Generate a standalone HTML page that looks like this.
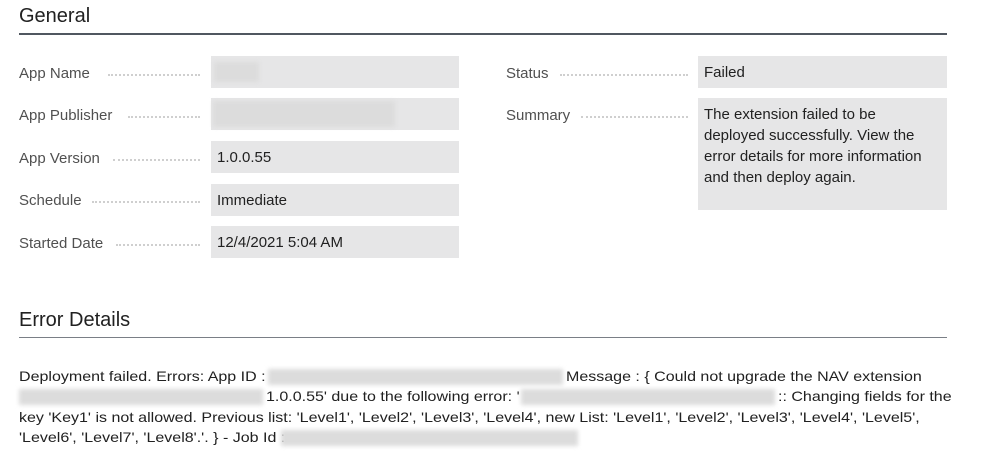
<!DOCTYPE html>
<html><head><meta charset="utf-8"><style>
body{margin:0;width:991px;height:457px;background:#fff;position:relative;overflow:hidden;font-family:"Liberation Sans",sans-serif;color:#212121}
h2{position:absolute;margin:0;font-weight:normal;font-size:20px;color:#212121;left:19px}
.rule{position:absolute;left:19px;width:928px;height:2px;background:#505760}
.lbl{position:absolute;font-size:15px;color:#505050;line-height:18px;white-space:nowrap}
.dots{position:absolute;height:0;border-top:2px dotted #cfcfcf}
.box{position:absolute;background:#e6e6e7;font-size:15px;line-height:21px;padding:6px 6px;box-sizing:border-box;color:#212121;white-space:nowrap}
.blur{position:absolute;background:#dcdcdc;filter:blur(2px)}
.t{position:absolute;font-size:14px;white-space:nowrap;color:#212121;transform-origin:0 0;transform:scaleX(1.144)}
</style></head><body>
<h2 style="top:5px">General</h2>
<div class="rule" style="top:33px"></div>

<div class="lbl" style="left:19px;top:65px">App Name</div><div class="dots" style="left:108px;width:92px;top:74px"></div>
<div class="box" style="left:211px;top:56px;width:248px;height:32px"></div><div class="blur" style="left:214px;top:62px;width:45px;height:20px"></div>
<div class="lbl" style="left:19px;top:107px">App Publisher</div><div class="dots" style="left:128px;width:72px;top:116px"></div>
<div class="box" style="left:211px;top:98px;width:248px;height:32px"></div><div class="blur" style="left:213px;top:101px;width:182px;height:26px"></div>
<div class="lbl" style="left:19px;top:150px">App Version</div><div class="dots" style="left:113px;width:87px;top:159px"></div>
<div class="box" style="left:211px;top:141px;width:248px;height:32px">1.0.0.55</div>
<div class="lbl" style="left:19px;top:192px">Schedule</div><div class="dots" style="left:92px;width:108px;top:201px"></div>
<div class="box" style="left:211px;top:184px;width:248px;height:32px">Immediate</div>
<div class="lbl" style="left:19px;top:235px">Started Date</div><div class="dots" style="left:116px;width:84px;top:244px"></div>
<div class="box" style="left:211px;top:226px;width:248px;height:32px">12/4/2021 5:04 AM</div>

<div class="lbl" style="left:506px;top:65px">Status</div><div class="dots" style="left:560px;width:128px;top:74px"></div>
<div class="box" style="left:698px;top:56px;width:249px;height:32px">Failed</div>
<div class="lbl" style="left:506px;top:107px">Summary</div><div class="dots" style="left:581px;width:107px;top:116px"></div>
<div class="box" style="left:698px;top:98px;width:249px;height:112px">The extension failed to be<br>deployed successfully. View the<br>error details for more information<br>and then deploy again.</div>

<h2 style="top:309px">Error Details</h2>
<div class="rule" style="top:337px;height:1px;background:#7a7f86"></div>

<div class="t" style="left:19px;top:368px">Deployment failed. Errors: App ID :</div>
<div class="blur" style="left:268px;top:369px;width:295px;height:16px"></div>
<div class="t" style="left:566px;top:368px">Message : { Could not upgrade the NAV extension</div>
<div class="blur" style="left:19px;top:389px;width:244px;height:16px"></div>
<div class="t" style="left:266px;top:388px">1.0.0.55' due to the following error: '</div>
<div class="blur" style="left:521px;top:389px;width:254px;height:16px"></div>
<div class="t" style="left:778px;top:388px">:: Changing fields for the</div>
<div class="t" style="left:19px;top:409px">key 'Key1' is not allowed. Previous list: 'Level1', 'Level2', 'Level3', 'Level4', new List: 'Level1', 'Level2', 'Level3', 'Level4', 'Level5',</div>
<div class="t" style="left:19px;top:429px">'Level6', 'Level7', 'Level8'.'. } - Job Id :</div>
<div class="blur" style="left:281px;top:430px;width:297px;height:16px"></div>
</body></html>
